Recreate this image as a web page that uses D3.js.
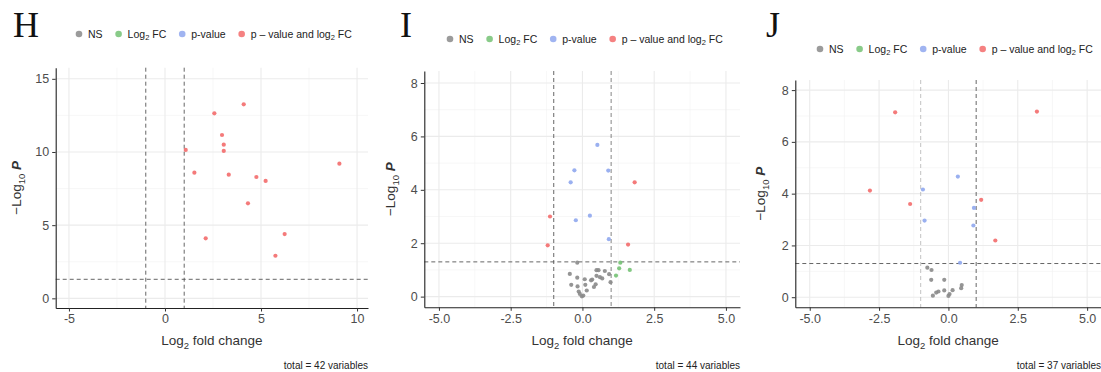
<!DOCTYPE html>
<html>
<head>
<meta charset="utf-8">
<script src="https://cdn.jsdelivr.net/npm/d3@7"></script>
<style>
  body { margin: 0; background: #fff; }
  svg { display: block; font-family: "Liberation Sans", Arial, sans-serif; }
</style>
</head>
<body>
<svg width="1101" height="372"></svg>
<script>
// volcano panels H, I, J : [log2 fold change, -log10 p]
const hBoth = [[1.08,10.14],[1.53,8.59],[2.12,4.1],[2.97,11.16],[3.06,10.5],[3.06,10.07],[3.32,8.45],
  [4.76,8.29],[5.24,8.02],[4.32,6.49],[6.23,4.39],[5.75,2.91],[9.08,9.2],[2.57,12.64],[4.1,13.26]]

const iNS = [[-0.18,1.27],[-0.44,0.85],[-0.18,0.71],[-0.39,0.44],[-0.17,0.38],[-0.13,0.19],[-0.09,0.1],
  [-0.02,0.01],[0.03,0.04],[0.08,0.65],[0.1,0.44],[0.15,0.23],[0.3,0.61],[0.34,0.64],[0.4,0.36],
  [0.46,0.46],[0.49,0.99],[0.56,0.99],[0.49,0.78],[0.61,0.73],[0.69,0.68],[0.78,0.96],[0.93,0.84],[0.98,0.54]]
const iFC = [[1.32,1.27],[1.28,1.06],[1.65,1.0],[1.17,0.79]]
const iP = [[0.52,5.68],[-0.28,4.73],[0.9,4.72],[-0.41,4.28],[-0.23,2.86],[0.26,3.03],[0.92,2.15]]
const iBoth = [[1.82,4.28],[-1.13,3.0],[-1.21,1.92],[1.59,1.95]]

const jNS = [[-0.76,1.14],[-0.61,1.05],[-0.62,0.67],[-0.15,0.67],[-0.56,0.06],[-0.44,0.18],[-0.36,0.22],
  [-0.15,0.26],[0.0,0.05],[0.04,0.12],[0.15,0.27],[0.48,0.47],[0.46,0.35]]
const jFC = []
const jP = [[-0.92,4.16],[-0.86,2.96],[0.34,4.66],[0.92,3.45],[0.9,2.77],[0.42,1.33]]
const jBoth = [[-1.92,7.14],[3.19,7.17],[-2.83,4.12],[-1.38,3.6],[1.18,3.76],[1.69,2.19]]

const totals = [42, 44, 37]
const legendNames = ['NS', 'Log2 FC', 'p-value', 'p \u2013 value and log2 FC']
const colors = ['#8a8a8a', '#74c274', '#8fa7ee', '#f36b6b']

const svg = d3.select('svg')

const panels = [
  { label: 'H', lx: 13, left: 55.7, right: 368, top: 67.7, bottom: 308,
    xDom: [-5.69, 10.57], yDom: [-0.66, 15.76],
    xTicks: [-5, 0, 5, 10], xMinor: [-2.5, 2.5, 7.5], yTicks: [0, 5, 10, 15], yMinor: [2.5, 7.5, 12.5],
    fmt: d3.format('d'), legY: 34, legX: 79, groups: [[], [], [], hBoth], total: totals[0],
    titleOff: 35, vlineCol: ['#555', '#555'] },
  { label: 'I', lx: 400, left: 424.3, right: 740, top: 71, bottom: 307.3,
    xDom: [-5.51, 5.49], yDom: [-0.4, 8.45],
    xTicks: [-5, -2.5, 0, 2.5, 5], xMinor: [-3.75, -1.25, 1.25, 3.75], yTicks: [0, 2, 4, 6, 8], yMinor: [1, 3, 5, 7],
    fmt: d3.format('.1f'), legY: 39, legX: 450, groups: [iNS, iFC, iP, iBoth], total: totals[1],
    titleOff: 29, vlineCol: ['#555', '#777'] },
  { label: 'J', lx: 766, left: 795.3, right: 1101, top: 80, bottom: 307.3,
    xDom: [-5.52, 5.5], yDom: [-0.39, 8.39],
    xTicks: [-5, -2.5, 0, 2.5, 5], xMinor: [-3.75, -1.25, 1.25, 3.75], yTicks: [0, 2, 4, 6, 8], yMinor: [1, 3, 5, 7],
    fmt: d3.format('.1f'), legY: 49, legX: 820, groups: [jNS, jFC, jP, jBoth], total: totals[2],
    titleOff: 30, vlineCol: ['#bbb', '#555'] }
]

panels.forEach(p => {
  const g = svg.append('g')
  const x = d3.scaleLinear().domain(p.xDom).range([p.left, p.right])
  const y = d3.scaleLinear().domain(p.yDom).range([p.bottom, p.top])

  // grid
  g.selectAll('.vmin').data(p.xMinor).enter().append('line')
    .attr('x1', d => x(d)).attr('x2', d => x(d)).attr('y1', p.top).attr('y2', p.bottom)
    .attr('stroke', '#f2f2f2').attr('stroke-width', 0.6)
  g.selectAll('.hmin').data(p.yMinor).enter().append('line')
    .attr('y1', d => y(d)).attr('y2', d => y(d)).attr('x1', p.left).attr('x2', p.right)
    .attr('stroke', '#f2f2f2').attr('stroke-width', 0.6)
  g.selectAll('.vmaj').data(p.xTicks).enter().append('line')
    .attr('x1', d => x(d)).attr('x2', d => x(d)).attr('y1', p.top).attr('y2', p.bottom)
    .attr('stroke', '#ebebeb').attr('stroke-width', 1.1)
  g.selectAll('.hmaj').data(p.yTicks).enter().append('line')
    .attr('y1', d => y(d)).attr('y2', d => y(d)).attr('x1', p.left).attr('x2', p.right)
    .attr('stroke', '#ebebeb').attr('stroke-width', 1.1)

  // cut-off lines
  ;[-1, 1].forEach((v, k) => {
    g.append('line').attr('x1', x(v)).attr('x2', x(v)).attr('y1', p.top).attr('y2', p.bottom)
      .attr('stroke', p.vlineCol[k]).attr('stroke-width', 0.9).attr('stroke-dasharray', '4,3')
  })
  g.append('line').attr('x1', p.left).attr('x2', p.right).attr('y1', y(-Math.log10(0.05))).attr('y2', y(-Math.log10(0.05)))
    .attr('stroke', '#555').attr('stroke-width', 0.9).attr('stroke-dasharray', '4,3')

  // points
  p.groups.forEach((pts, k) => {
    g.selectAll('.pt' + k).data(pts).enter().append('circle')
      .attr('cx', d => x(d[0])).attr('cy', d => y(d[1])).attr('r', 2.1)
      .attr('fill', colors[k]).attr('fill-opacity', 0.9)
  })

  // axes
  const xa = g.append('g').attr('transform', `translate(0,${p.bottom})`)
    .call(d3.axisBottom(x).tickValues(p.xTicks).tickFormat(p.fmt).tickSize(3.5).tickSizeOuter(0))
  const ya = g.append('g').attr('transform', `translate(${p.left},0)`)
    .call(d3.axisLeft(y).tickValues(p.yTicks).tickFormat(d3.format('d')).tickSize(3.5).tickSizeOuter(0))
  ;[xa, ya].forEach(a => {
    a.select('.domain').attr('stroke', '#222').attr('stroke-width', 1.1)
    a.selectAll('.tick line').attr('stroke', '#333')
    a.selectAll('.tick text').attr('fill', '#4d4d4d').style('font-size', '12.5px')
      .style('font-family', '"Liberation Sans", Arial, sans-serif')
  })
  xa.selectAll('.tick text').text(d => p.fmt(d).replace('\u2212', '-'))

  // axis titles
  const xt = g.append('text').attr('x', (p.left + p.right) / 2).attr('y', 345)
    .attr('text-anchor', 'middle').attr('fill', '#333').style('font-size', '13.5px')
  xt.append('tspan').text('Log')
  xt.append('tspan').text('2').attr('dy', 4).style('font-size', '9.5px')
  xt.append('tspan').text(' fold change').attr('dy', -4)

  const yc = (p.top + p.bottom) / 2
  const yt = g.append('text').attr('transform', `translate(${p.left - p.titleOff},${yc}) rotate(-90)`)
    .attr('text-anchor', 'middle').attr('fill', '#333').style('font-size', '13.5px')
  yt.append('tspan').text('\u2212Log')
  yt.append('tspan').text('10').attr('dy', 4).style('font-size', '9.5px')
  yt.append('tspan').text(' P').attr('dy', -4).style('font-style', 'italic').style('font-weight', 'bold')

  // caption
  g.append('text').attr('x', p.right).attr('y', 369).attr('text-anchor', 'end')
    .attr('fill', '#222').style('font-size', '10px').text(`total = ${p.total} variables`)

  // panel letter
  g.append('text').attr('x', p.lx).attr('y', 37).attr('fill', '#111')
    .style('font-family', '"Liberation Serif", "Times New Roman", serif').style('font-size', '36px')
    .text(p.label)

  // legend
  let cx = p.legX
  legendNames.forEach((name, k) => {
    g.append('circle').attr('cx', cx).attr('cy', p.legY).attr('r', 3.3).attr('fill', colors[k]).attr('fill-opacity', 0.85)
    const t = g.append('text').attr('x', cx + 9).attr('y', p.legY + 3.8).attr('fill', '#222').style('font-size', '10.5px')
    const m = name.match(/^(.*?log|.*?Log)2(.*)$/)
    if (m) {
      t.append('tspan').text(m[1])
      t.append('tspan').text('2').attr('dy', 2.5).style('font-size', '7.5px')
      t.append('tspan').text(m[2]).attr('dy', -2.5)
    } else {
      t.text(name)
    }
    cx += 9 + t.node().getComputedTextLength() + 16
  })
})
</script>
</body>
</html>
